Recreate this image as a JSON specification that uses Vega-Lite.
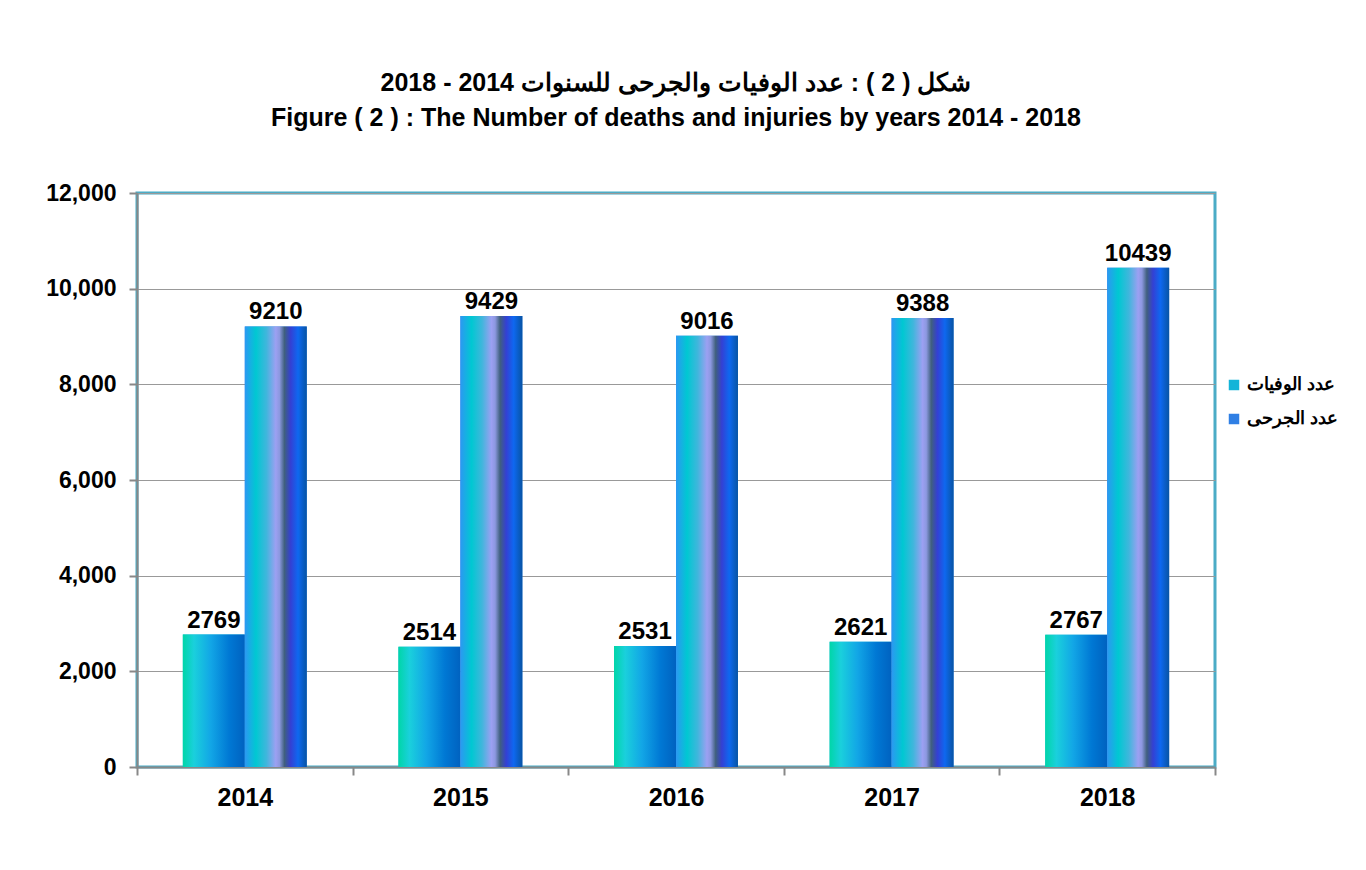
{
  "$schema": "https://vega.github.io/schema/vega-lite/v6.json",
  "width": 1078,
  "height": 574,
  "autosize": {"type": "none"},
  "padding": {"left": 137, "top": 193, "right": 151, "bottom": 103},
  "background": "white",
  "title": {
    "text": ["شكل ( 2 ) : عدد الوفيات والجرحى للسنوات 2014 - 2018", "Figure ( 2 ) : The Number of deaths and injuries by years 2014 - 2018"],
    "font": "Arial",
    "fontSize": 25,
    "fontWeight": "bold",
    "color": "black",
    "anchor": "middle",
    "offset": 51,
    "lineHeight": 35
  },
  "config": {
    "view": {"stroke": "#4bacc6", "strokeWidth": 3},
    "axis": {
      "labelFont": "Arial",
      "labelFontWeight": "bold",
      "labelColor": "black",
      "domainColor": "#888888",
      "domainWidth": 2,
      "tickColor": "#888888",
      "tickWidth": 2,
      "gridColor": "#999999",
      "gridWidth": 1
    }
  },
  "data": {
    "values": [
      {"year": "2014", "series": "عدد الوفيات", "value": 2769},
      {"year": "2014", "series": "عدد الجرحى", "value": 9210},
      {"year": "2015", "series": "عدد الوفيات", "value": 2514},
      {"year": "2015", "series": "عدد الجرحى", "value": 9429},
      {"year": "2016", "series": "عدد الوفيات", "value": 2531},
      {"year": "2016", "series": "عدد الجرحى", "value": 9016},
      {"year": "2017", "series": "عدد الوفيات", "value": 2621},
      {"year": "2017", "series": "عدد الجرحى", "value": 9388},
      {"year": "2018", "series": "عدد الوفيات", "value": 2767},
      {"year": "2018", "series": "عدد الجرحى", "value": 10439}
    ]
  },
  "encoding": {
    "x": {
      "field": "year",
      "type": "nominal",
      "scale": {"paddingInner": 0, "paddingOuter": 0},
      "axis": {
        "title": null,
        "labelAngle": 0,
        "labelFontSize": 25,
        "labelPadding": 10,
        "tickBand": "extent",
        "tickSize": 8,
        "grid": false
      }
    },
    "xOffset": {
      "field": "series",
      "type": "nominal",
      "sort": ["عدد الوفيات", "عدد الجرحى"],
      "scale": {"paddingInner": 0, "paddingOuter": 0.74}
    },
    "y": {
      "field": "value",
      "type": "quantitative",
      "scale": {"domain": [0, 12000], "nice": false},
      "axis": {
        "title": null,
        "format": ",d",
        "values": [0, 2000, 4000, 6000, 8000, 10000, 12000],
        "labelFontSize": 23,
        "labelPadding": 13,
        "tickSize": 8,
        "grid": true
      }
    }
  },
  "layer": [
    {
      "mark": {"type": "bar", "strokeWidth": 0},
      "encoding": {
        "color": {
          "field": "series",
          "type": "nominal",
          "sort": ["عدد الوفيات", "عدد الجرحى"],
          "scale": {"range": ["#14b4d8", "#2f7fe4"]},
          "legend": {
            "title": null,
            "orient": "none",
            "legendX": 1088,
            "legendY": 183,
            "labelFont": "Arial",
            "labelFontSize": 18,
            "labelFontWeight": "bold",
            "labelColor": "black",
            "symbolType": "square",
            "symbolSize": 110,
            "symbolStrokeWidth": 0,
            "rowPadding": 16
          }
        }
      }
    },
    {
      "transform": [{"filter": "datum.series === 'عدد الوفيات'"}],
      "mark": {
        "type": "bar",
        "strokeWidth": 0,
        "fill": {
          "gradient": "linear", "x1": 0, "y1": 0, "x2": 1, "y2": 0,
          "stops": [
            {"offset": 0, "color": "#00d6a8"},
            {"offset": 0.18, "color": "#1ad0dc"},
            {"offset": 0.45, "color": "#12a6e6"},
            {"offset": 0.75, "color": "#0078d4"},
            {"offset": 1, "color": "#0062c0"}
          ]
        }
      }
    },
    {
      "transform": [{"filter": "datum.series === 'عدد الجرحى'"}],
      "mark": {
        "type": "bar",
        "strokeWidth": 0,
        "fill": {
          "gradient": "linear", "x1": 0, "y1": 0, "x2": 1, "y2": 0,
          "stops": [
            {"offset": 0, "color": "#2c98f2"},
            {"offset": 0.18, "color": "#00c8d2"},
            {"offset": 0.35, "color": "#40b6dc"},
            {"offset": 0.5, "color": "#9ca0f2"},
            {"offset": 0.56, "color": "#8c98e0"},
            {"offset": 0.64, "color": "#40607e"},
            {"offset": 0.74, "color": "#3440d4"},
            {"offset": 0.86, "color": "#0e68f0"},
            {"offset": 1, "color": "#0754a4"}
          ]
        }
      }
    },
    {
      "mark": {
        "type": "text",
        "baseline": "bottom",
        "dy": -2,
        "font": "Arial",
        "fontSize": 24,
        "fontWeight": "bold",
        "color": "black"
      },
      "encoding": {
        "text": {"field": "value", "type": "quantitative", "format": "d"}
      }
    }
  ]
}
